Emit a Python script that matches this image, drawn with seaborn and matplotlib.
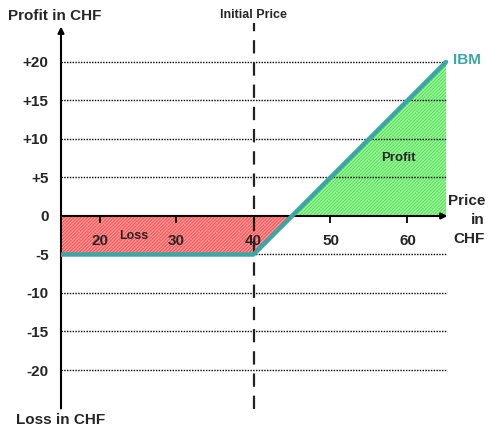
import numpy as np
import pandas as pd
import matplotlib
matplotlib.use("Agg")
import matplotlib.pyplot as plt
import seaborn as sns

# Long call payoff: strike 40, premium 5
prices = [15, 40, 65]
payoff = [-5, -5, 20]
x_ticks = [20, 30, 40, 50, 60]
y_ticks = [20, 15, 10, 5, 0, -5, -10, -15, -20]
y_tick_labels = ["+20", "+15", "+10", "+5", "0", "-5", "-10", "-15", "-20"]
grid_levels = [20, 15, 10, 5, -5, -10, -15, -20]
initial_price = 40

sns.set_theme(style="white")
plt.rcParams["font.family"] = ["Liberation Sans", "DejaVu Sans"]
plt.rcParams["font.weight"] = "bold"
plt.rcParams["hatch.linewidth"] = 0.9

teal = "#3aa6a6"
df = pd.DataFrame({"price": prices, "pnl": payoff})

fig = plt.figure(figsize=(4.88, 4.30), dpi=100)
ax = fig.add_axes([61 / 488, 1 - 408.5 / 430, (453.7 - 61) / 488, 385 / 430])
ax.set_xlim(15, 66)
ax.set_ylim(-25, 25)
ax.set_axisbelow(False)
for s in ax.spines.values():
    s.set_visible(False)
ax.spines["bottom"].set_position(("data", 0))

px = np.array(prices, dtype=float)
py = np.array(payoff, dtype=float)

# Loss and profit areas
plt.rcParams["hatch.color"] = "#ff9c9c"
ax.fill_between(px, py, 0, where=py <= 0, interpolate=True,
                facecolor="#ff5252", edgecolor="#ff9c9c", hatch="//////////",
                linewidth=0, zorder=1)
plt.rcParams["hatch.color"] = "#a4f7a4"
ax.fill_between(px, py, 0, where=py >= 0, interpolate=True,
                facecolor="#55e255", edgecolor="#a4f7a4", hatch="//////////",
                linewidth=0, zorder=1)

# Dotted guide lines
ax.hlines(grid_levels, 15, 65, colors="black", linestyles=(0, (1, 1)),
          linewidth=1.0, zorder=2)

# Initial price marker
ax.vlines(initial_price, -25, 25.2, colors="#222222",
          linestyles=(0, (6, 4)), linewidth=1.6, zorder=3)
ax.text(initial_price, 26.1, "Initial Price", ha="center", va="center",
        fontsize=9, fontweight="bold", clip_on=False)

# Axes with arrows
ax.annotate("", xy=(15, 24.6), xytext=(15, -25),
            arrowprops=dict(arrowstyle="-|>", color="black", lw=1.5,
                            mutation_scale=9, shrinkA=0, shrinkB=0),
            annotation_clip=False, zorder=4)
ax.annotate("", xy=(65.2, 0), xytext=(15, 0),
            arrowprops=dict(arrowstyle="-|>", color="black", lw=1.5,
                            mutation_scale=9, shrinkA=0, shrinkB=0),
            annotation_clip=False, zorder=4)

# Payoff line
sns.lineplot(data=df, x="price", y="pnl", ax=ax, color=teal, linewidth=3.2,
             zorder=5, legend=False)
ax.set_xlabel("")
ax.set_ylabel("")

ax.set_xticks(x_ticks)
ax.set_xticklabels([str(t) for t in x_ticks], fontsize=11, fontweight="bold")
ax.set_yticks(y_ticks)
ax.set_yticklabels(y_tick_labels, fontsize=11, fontweight="bold")
ax.tick_params(axis="x", direction="out", length=5, width=1.3, color="black",
               pad=8, bottom=True)
ax.tick_params(axis="y", length=0, pad=9, left=False)
ax.xaxis.set_zorder(6)
ax.yaxis.set_zorder(6)

# Labels
ax.text(65.9, 20.3, "IBM", color=teal, fontsize=11, fontweight="bold",
        ha="left", va="center", clip_on=False)
ax.text(58.8, 7.5, "Profit", fontsize=9.5, fontweight="bold",
        ha="center", va="center")
ax.text(24.5, -2.6, "Loss", fontsize=9, fontweight="bold",
        ha="center", va="center")
fig.text(485 / 488, 1 - 220 / 430, "Price\nin\nCHF", ha="right", va="center",
         multialignment="right", fontsize=11, fontweight="bold",
         linespacing=1.45,
         bbox=dict(facecolor="white", edgecolor="none", pad=1))
fig.text(8 / 488, 1 - 16 / 430, "Profit in CHF", ha="left", va="center",
         fontsize=11, fontweight="bold")
fig.text(16 / 488, 1 - 420 / 430, "Loss in CHF", ha="left", va="center",
         fontsize=11, fontweight="bold")

fig.savefig("out.png", dpi=100)
